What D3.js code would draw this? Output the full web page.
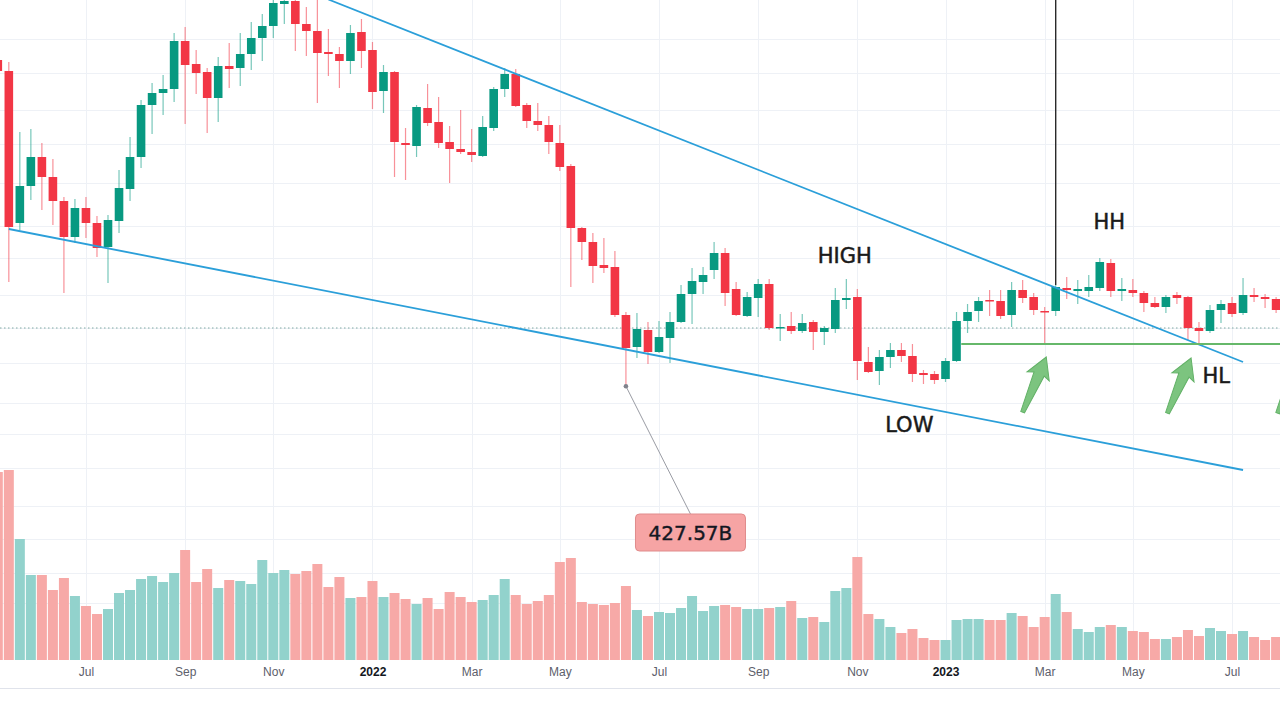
<!DOCTYPE html>
<html>
<head>
<meta charset="utf-8">
<script src="https://cdn.jsdelivr.net/npm/d3@7"></script>
<style>
  html, body { margin: 0; padding: 0; background: #fff; }
  svg { display: block; }
</style>
</head>
<body>
<div class="chart"></div>
<script>
var width = 1280,
    height = 713;

// weekly candles from the week of 2021-05-10, market cap in B
let opens = [1080,1058,754,828,886,846,798,726,784,754,
    706,758,822,886,990,1014,1022,1118,1072,1056,
    1004,1068,1064,1092,1124,1148,1192,1198,1152,1138,
    1096,1092,1078,1136,1100,1018,1056,914,908,984,
    956,916,902,896,888,944,1022,1052,990,958,
    950,914,868,744,716,670,666,570,506,540,
    496,524,556,612,636,660,694,622,568,604,
    632,544,548,538,556,536,542,600,606,476,
    458,486,500,488,454,452,442,478,558,578,
    600,598,570,620,606,578,578,624,618,618,
    624,674,618,620,614,594,586,610,606,544,
    538,580,594,574,610,606,602];
let closes = [1058,746,828,886,846,798,726,784,754,704,
    760,824,886,990,1014,1022,1118,1070,1054,1004,
    1068,1062,1092,1124,1148,1194,1198,1152,1138,1094,
    1092,1078,1134,1098,1016,1056,916,910,986,954,
    914,902,896,890,946,1022,1052,988,958,950,
    916,866,744,716,668,664,570,504,542,496,
    526,556,612,638,650,694,614,570,606,632,
    544,546,538,554,536,544,600,604,478,456,
    486,500,488,452,450,440,478,558,576,598,
    598,568,620,604,580,576,626,620,622,626,
    676,618,622,614,594,586,606,604,544,538,
    580,592,572,610,606,602,580];
let highs = [1084,1076,936,942,914,882,806,802,806,768,
    770,860,926,1000,1034,1050,1134,1146,1100,1064,
    1086,1114,1134,1156,1172,1204,1210,1210,1186,1200,
    1142,1106,1150,1162,1116,1070,1058,944,990,1032,
    1006,948,980,942,968,1026,1064,1062,994,994,
    968,950,872,746,734,724,698,576,574,556,
    558,576,630,664,666,716,704,636,616,642,
    642,572,576,572,560,548,624,642,622,506,
    500,514,514,512,460,458,484,576,592,606,
    620,620,636,640,614,586,630,646,640,650,
    684,682,644,642,618,606,610,616,608,556,
    590,600,606,644,624,612,606];
let lows = [1056,636,740,800,780,750,614,714,724,686,
    634,734,798,864,932,970,996,952,1012,934,
    956,1024,1028,1060,1078,1124,1152,1098,1088,994,
    1048,1024,1052,1064,982,974,846,840,886,948,
    904,834,892,876,886,938,1006,986,944,938,
    892,858,626,680,634,654,566,427.57,484,472,
    494,474,554,552,612,642,588,568,566,566,
    540,518,532,534,500,510,534,582,440,454,
    430,464,476,436,432,432,436,476,534,556,
    568,562,546,594,570,512,568,602,592,606,
    618,606,598,606,576,584,574,592,520,512,
    534,554,566,570,596,584,574];
let volumes = [188,190,121,85,85,70,82,64,54,46,
    51,67,70,81,84,78,87,110,78,91,
    72,80,79,76,100,87,90,86,89,96,
    73,83,62,63,79,63,67,61,56,62,
    51,68,63,58,60,65,81,65,56,59,
    65,98,102,58,56,55,57,74,50,44,
    48,47,52,64,49,54,55,53,51,51,
    52,53,59,42,43,38,69,72,103,46,
    41,33,27,31,22,20,20,40,41,41,
    40,40,47,44,33,43,66,48,31,28,
    33,35,33,29,28,21,21,23,30,24,
    32,29,26,29,23,20,23];

let tickDates = ["2021-07-05","2021-09-06","2021-11-01","2022-01-03","2022-03-07","2022-05-02",
    "2022-07-04","2022-09-05","2022-11-07","2023-01-02","2023-03-06","2023-05-01","2023-07-03"];
let tickNames = ["Jul","Sep","Nov","2022","Mar","May","Jul","Sep","Nov","2023","Mar","May","Jul"];

let gridPrices = [1122,1054,980,912,834,748,684,610,544,474,394,332];
let gridVolumes = [192,154,121,87,57];
let lastPrice = 544;

// drawings
let upperTrend = [["2021-12-06", 1201], ["2023-07-10", 476]];
let lowerTrend = [["2021-05-17", 742], ["2023-07-10", 260]];
let supportLine = [["2023-01-12", 512], ["2023-09-01", 512]];
let markerLine = [["2023-03-13", 1200], ["2023-03-13", 630]];
let notes = [
    {text: "HIGH", date: "2022-10-30", price: 690},
    {text: "LOW", date: "2022-12-10", price: 352},
    {text: "HH", date: "2023-04-16", price: 758},
    {text: "HL", date: "2023-06-23", price: 450}
];
let arrowTips = [["2023-03-07", 486], ["2023-06-07", 484], ["2023-08-16", 484]];
let calloutIndex = 57;
let calloutAt = ["2022-07-24", 135];

let parse = d3.utcParse("%Y-%m-%d");
let start = parse("2021-05-10");
let dates = opens.map(function(d, i){
    return d3.utcWeek.offset(start, i);
});

let data = dates.map(function(d, i){
    return {date: d, o: opens[i], h: highs[i], l: lows[i], c: closes[i], v: volumes[i]};
});

let x = d3.scaleUtc()
    .domain([dates[0], dates[dates.length - 1]])
    .range([-2.2, 1276.1]);

let y = d3.scaleLinear()
    .domain([-226, 1200])
    .range([713, 0]);

let yVol = d3.scaleLinear()
    .domain([0, 200])
    .range([660, 460]);

let up = "#089981", down = "#f23645";

let svg = d3.select(".chart")
    .append("svg")
    .attr("width", width)
    .attr("height", height);

svg.append("rect").attr("width", width).attr("height", height).attr("fill", "#fff");

// grid
let grid = svg.append("g").attr("stroke", "#eef1f6").attr("stroke-width", 1);
grid.selectAll(".gp")
    .data(gridPrices)
    .join("line")
    .attr("x1", 0).attr("x2", width)
    .attr("y1", d => Math.round(y(d)) + 0.5)
    .attr("y2", d => Math.round(y(d)) + 0.5);
grid.selectAll(".gv")
    .data(gridVolumes)
    .join("line")
    .attr("class", "gv")
    .attr("x1", 0).attr("x2", width)
    .attr("y1", d => Math.round(yVol(d)) + 0.5)
    .attr("y2", d => Math.round(yVol(d)) + 0.5);
grid.selectAll(".gx")
    .data(tickDates)
    .join("line")
    .attr("class", "gx")
    .attr("x1", d => Math.round(x(parse(d))) + 0.5)
    .attr("x2", d => Math.round(x(parse(d))) + 0.5)
    .attr("y1", 0).attr("y2", 660);

// volume
svg.append("g")
    .selectAll("rect")
    .data(data)
    .join("rect")
    .attr("x", d => x(d.date) - 5)
    .attr("width", 10)
    .attr("y", d => yVol(d.v))
    .attr("height", d => yVol(0) - yVol(d.v))
    .attr("fill", d => d.c >= d.o ? "#92d2cc" : "#f7a9a7");

// last price dotted line
svg.append("line")
    .attr("x1", 0).attr("x2", width)
    .attr("y1", y(lastPrice)).attr("y2", y(lastPrice))
    .attr("stroke", "#7fa9a2")
    .attr("stroke-width", 1)
    .attr("stroke-dasharray", "1.5,2.5");

// candles
let candles = svg.append("g")
    .selectAll("g")
    .data(data)
    .join("g");

candles.append("line")
    .attr("x1", d => x(d.date)).attr("x2", d => x(d.date))
    .attr("y1", d => y(d.h)).attr("y2", d => y(d.l))
    .attr("stroke", d => d.c >= d.o ? up : down)
    .attr("stroke-opacity", 0.55)
    .attr("stroke-width", 1.2);

candles.append("rect")
    .attr("x", d => x(d.date) - 4.3)
    .attr("width", 8.6)
    .attr("y", d => y(Math.max(d.o, d.c)))
    .attr("height", d => Math.max(1.5, Math.abs(y(d.o) - y(d.c))))
    .attr("fill", d => d.c >= d.o ? up : down);

// drawings
let line = d3.line()
    .x(d => x(parse(d[0])))
    .y(d => y(d[1]));

svg.append("path")
    .attr("d", line(upperTrend))
    .attr("fill", "none").attr("stroke", "#2b9fd9").attr("stroke-width", 1.8);
svg.append("path")
    .attr("d", line(lowerTrend))
    .attr("fill", "none").attr("stroke", "#2b9fd9").attr("stroke-width", 1.8);
svg.append("path")
    .attr("d", line(supportLine))
    .attr("fill", "none").attr("stroke", "#66b86a").attr("stroke-width", 2.2);
svg.append("path")
    .attr("d", line(markerLine))
    .attr("fill", "none").attr("stroke", "#2a2a2a").attr("stroke-width", 1.4);

let arrowShape = [[0,0],[12,21],[5.5,18.5],[1.5,60],[-2.5,60],[-5.5,18.5],[-12,21]];
svg.append("g")
    .selectAll("path")
    .data(arrowTips)
    .join("path")
    .attr("d", "M" + arrowShape.join("L") + "Z")
    .attr("transform", d => `translate(${x(parse(d[0]))},${y(d[1])}) rotate(22.7)`)
    .attr("fill", "#7cc47f")
    .attr("stroke", "#62b166")
    .attr("stroke-width", 1);

svg.append("g")
    .selectAll("text")
    .data(notes)
    .join("text")
    .attr("x", d => x(parse(d.date)))
    .attr("y", d => y(d.price))
    .attr("dy", "0.36em")
    .attr("text-anchor", "middle")
    .style("font-family", "'DejaVu Sans', sans-serif")
    .style("font-size", "21px")
    .attr("fill", "#1a1a1a")
    .attr("stroke", "#1a1a1a")
    .attr("stroke-width", 0.5)
    .text(d => d.text);

// price callout
let cx = x(dates[calloutIndex]), cy = y(lows[calloutIndex]);
let lx = x(parse(calloutAt[0])), ly = y(calloutAt[1]);
svg.append("line")
    .attr("x1", cx).attr("y1", cy)
    .attr("x2", lx).attr("y2", ly - 18.5)
    .attr("stroke", "#9a9ca4").attr("stroke-width", 1);
svg.append("circle")
    .attr("cx", cx).attr("cy", cy).attr("r", 2.3)
    .attr("fill", "#80838c");
svg.append("rect")
    .attr("x", lx - 55).attr("y", ly - 18.5)
    .attr("width", 110).attr("height", 37)
    .attr("rx", 4)
    .attr("fill", "#f6a4a4")
    .attr("stroke", "#e08b8b");
svg.append("text")
    .attr("x", lx).attr("y", ly)
    .attr("dy", "0.36em")
    .attr("text-anchor", "middle")
    .style("font-family", "'DejaVu Sans', sans-serif")
    .style("font-size", "20px")
    .attr("fill", "#131722")
    .attr("stroke", "#131722")
    .attr("stroke-width", 0.4)
    .text(lows[calloutIndex].toFixed(2) + "B");

// time axis
let xAxis = d3.axisBottom(x)
    .tickValues(tickDates.map(parse))
    .tickFormat((d, i) => tickNames[i])
    .tickSize(0)
    .tickPadding(0);

let ax = svg.append("g")
    .attr("transform", "translate(0,667)")
    .call(xAxis);
ax.select(".domain").remove();
ax.selectAll("text")
    .style("font-family", "'Liberation Sans', Arial, sans-serif")
    .style("font-size", "12px")
    .attr("fill", d => d.getUTCMonth() === 0 ? "#131722" : "#5d606b")
    .style("font-weight", d => d.getUTCMonth() === 0 ? "bold" : "normal");

svg.append("line")
    .attr("x1", 0).attr("x2", width)
    .attr("y1", 688.5).attr("y2", 688.5)
    .attr("stroke", "#e0e3eb");
</script>
</body>
</html>
